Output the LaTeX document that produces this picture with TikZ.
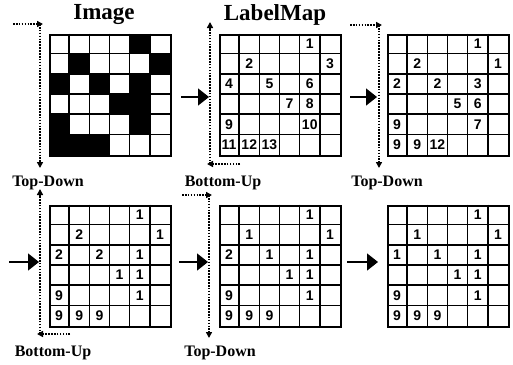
\documentclass[tikz,border=0pt]{standalone}
\usepackage{fontspec}
\setmainfont{Liberation Serif}
\newfontfamily\digitfont{Liberation Sans}
\usepackage{tikz}
\usetikzlibrary{arrows.meta,calc,backgrounds}

\begin{document}
\begin{tikzpicture}[x=1pt,y=-1pt,
  gridbox/.style={draw,line width=2pt,minimum size=121pt,inner sep=0pt},
  num/.style={font=\digitfont\bfseries\fontsize{14}{14}\selectfont,inner sep=0pt},
  title/.style={font=\bfseries\fontsize{23}{23}\selectfont},
  scanlbl/.style={font=\bfseries\fontsize{16}{16}\selectfont},
  scan/.style={line width=2pt,dash pattern=on 1.6pt off 1.3pt,-{Triangle[length=6pt,width=6pt]}},
  move/.style={line width=1.5pt,-{Triangle[length=11pt,width=17pt]}}]
  \useasboundingbox (0,0) rectangle (513,364);
  % six grids: image, label map and the passes
  \node[gridbox] (img) at (110.5,95) {};
  \node[gridbox] (lbl) at (280.5,95) {};
  \node[gridbox] (td) at (448.5,95) {};
  \node[gridbox] (bu) at (110.5,266) {};
  \node[gridbox] (tdb) at (280.5,266) {};
  \node[gridbox] (res) at (448.5,266) {};
  \foreach \g in {img,lbl,td,bu,tdb,res}{
    \foreach \i in {1,...,5}{
      \draw[line width=1.6pt] ($(\g.north west)+(\i*121/6,0)$) -- ($(\g.south west)+(\i*121/6,0)$);
      \draw[line width=1.6pt] ($(\g.north west)+(0,\i*121/6)$) -- ($(\g.north east)+(0,\i*121/6)$);
    }
  }
  \begin{scope}[on background layer]
    \foreach \c/\r in {4/0,1/1,5/1,0/2,2/2,4/2,3/3,4/3,0/4,4/4,0/5,1/5,2/5}
      \fill ($(img.north west)+(\c*121/6,\r*121/6)$) rectangle +(121/6,121/6);
  \end{scope}
  % labels in the cells
  \foreach \g/\cells in {lbl/{4/0/1,1/1/2,5/1/3,0/2/4,2/2/5,4/2/6,3/3/7,4/3/8,0/4/9,4/4/10,0/5/11,1/5/12,2/5/13},
      td/{4/0/1,1/1/2,5/1/1,0/2/2,2/2/2,4/2/3,3/3/5,4/3/6,0/4/9,4/4/7,0/5/9,1/5/9,2/5/12},
      bu/{4/0/1,1/1/2,5/1/1,0/2/2,2/2/2,4/2/1,3/3/1,4/3/1,0/4/9,4/4/1,0/5/9,1/5/9,2/5/9},
      tdb/{4/0/1,1/1/1,5/1/1,0/2/2,2/2/1,4/2/1,3/3/1,4/3/1,0/4/9,4/4/1,0/5/9,1/5/9,2/5/9},
      res/{4/0/1,1/1/1,5/1/1,0/2/1,2/2/1,4/2/1,3/3/1,4/3/1,0/4/9,4/4/1,0/5/9,1/5/9,2/5/9}}{
    \foreach \c/\r/\v in \cells
      \node[num] (\g-\c-\r) at ($(\g.north west)+(\c*121/6+121/12,\r*121/6+121/12)$) {\v};
  }
  \node[title] (timg) at (104,15) {Image};
  \node[title] (tlbl) at (275,15) {LabelMap};
  % scan directions
  \coordinate (s1a) at (13,24); \coordinate (s1b) at (43,24);
  \coordinate (s1c) at (40,24); \coordinate (s1d) at (40,168);
  \draw[scan] (s1a) -- (s1b);
  \draw[scan] (s1c) -- (s1d);
  \coordinate (s2a) at (240,164); \coordinate (s2b) at (207,164);
  \coordinate (s2c) at (210,164); \coordinate (s2d) at (210,22);
  \draw[scan] (s2a) -- (s2b);
  \draw[scan] (s2c) -- (s2d);
  \coordinate (s3a) at (350,25); \coordinate (s3b) at (382,25);
  \coordinate (s3c) at (379,25); \coordinate (s3d) at (379,168);
  \draw[scan] (s3a) -- (s3b);
  \draw[scan] (s3c) -- (s3d);
  \coordinate (s4a) at (70,334); \coordinate (s4b) at (37,334);
  \coordinate (s4c) at (40,334); \coordinate (s4d) at (40,189);
  \draw[scan] (s4a) -- (s4b);
  \draw[scan] (s4c) -- (s4d);
  \coordinate (s5a) at (182,195); \coordinate (s5b) at (212,195);
  \coordinate (s5c) at (209,195); \coordinate (s5d) at (209,338);
  \draw[scan] (s5a) -- (s5b);
  \draw[scan] (s5c) -- (s5d);
  \node[scanlbl] (l1) at (48,183) {Top-Down};
  \node[scanlbl] (l2) at (223,183) {Bottom-Up};
  \node[scanlbl] (l3) at (387,183) {Top-Down};
  \node[scanlbl] (l4) at (53,353) {Bottom-Up};
  \node[scanlbl] (l5) at (220,353) {Top-Down};
  % passes
  \draw[move] ($(img.east)+(9,2)$) -- ($(lbl.west)+(-10,2)$);
  \draw[move] ($(lbl.east)+(8,2)$) -- ($(td.west)+(-10,2)$);
  \draw[move] ($(bu.west)+(-40,-4)$) -- ($(bu.west)+(-10,-4)$);
  \draw[move] ($(tdb.west)+(-40,-4)$) -- ($(tdb.west)+(-11,-4)$);
  \draw[move] ($(res.west)+(-40,-4)$) -- ($(res.west)+(-9,-4)$);
\end{tikzpicture}
\end{document}
